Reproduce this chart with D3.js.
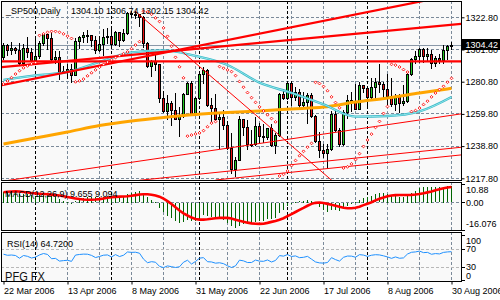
<!DOCTYPE html>
<html>
<head>
<meta charset="utf-8">
<title>_SP500,Daily</title>
<script src="https://cdn.jsdelivr.net/npm/d3@7/dist/d3.min.js"></script>
<style>
  body { margin: 0; background: #fff; }
  svg { display: block; font-family: "Liberation Sans", Arial, sans-serif; }
  .lbl { font-size: 9px; fill: #000; }
</style>
</head>
<body>
<div id="chart"></div>
<script>
// trading days on the chart
var dates = [
  "2006-03-22","2006-03-23","2006-03-24","2006-03-27","2006-03-28","2006-03-29","2006-03-30","2006-03-31",
  "2006-04-03","2006-04-04","2006-04-05","2006-04-06","2006-04-07","2006-04-10","2006-04-11","2006-04-12","2006-04-13",
  "2006-04-17","2006-04-18","2006-04-19","2006-04-20","2006-04-21","2006-04-24","2006-04-25","2006-04-26","2006-04-27","2006-04-28",
  "2006-05-01","2006-05-02","2006-05-03","2006-05-04","2006-05-05","2006-05-08","2006-05-09","2006-05-10","2006-05-11","2006-05-12",
  "2006-05-15","2006-05-16","2006-05-17","2006-05-18","2006-05-19","2006-05-22","2006-05-23","2006-05-24","2006-05-25","2006-05-26",
  "2006-05-30","2006-05-31",
  "2006-06-01","2006-06-02","2006-06-05","2006-06-06","2006-06-07","2006-06-08","2006-06-09","2006-06-12","2006-06-13","2006-06-14",
  "2006-06-15","2006-06-16","2006-06-19","2006-06-20","2006-06-21","2006-06-22","2006-06-23","2006-06-26","2006-06-27","2006-06-28",
  "2006-06-29","2006-06-30",
  "2006-07-03","2006-07-05","2006-07-06","2006-07-07","2006-07-10","2006-07-11","2006-07-12","2006-07-13","2006-07-14","2006-07-17",
  "2006-07-18","2006-07-19","2006-07-20","2006-07-21","2006-07-24","2006-07-25","2006-07-26","2006-07-27","2006-07-28","2006-07-31",
  "2006-08-01","2006-08-02","2006-08-03","2006-08-04","2006-08-07","2006-08-08","2006-08-09","2006-08-10","2006-08-11","2006-08-14",
  "2006-08-15","2006-08-16","2006-08-17","2006-08-18","2006-08-21","2006-08-22","2006-08-23","2006-08-24","2006-08-25","2006-08-28",
  "2006-08-29","2006-08-30"
];

var open = [
  1297.2,1305.0,1301.7,1303.0,1301.6,1293.2,1302.9,1300.3,1294.9,1297.8,
  1305.9,1311.6,1309.0,1295.5,1296.6,1286.6,1288.1,1289.1,1285.3,1307.3,
  1309.9,1311.5,1311.3,1308.1,1301.7,1305.4,1309.7,1310.6,1305.2,1313.2,
  1307.9,1312.3,1325.8,1324.7,1325.1,1322.9,1305.9,1291.2,1294.5,1292.1,
  1270.3,1261.8,1267.0,1262.1,1256.6,1258.6,1272.9,1280.2,1259.8,1270.1,
  1285.7,1288.2,1265.3,1263.9,1256.2,1257.9,1252.3,1237.4,1223.7,1230.0,
  1256.2,1251.5,1240.1,1240.1,1252.2,1245.6,1244.5,1250.6,1239.2,1246.0,
  1272.9,1270.2,1280.2,1270.9,1274.1,1265.5,1267.3,1272.4,1258.6,1242.3,
  1236.2,1234.5,1236.9,1259.8,1249.1,1240.3,1260.9,1268.9,1268.4,1263.2,
  1278.6,1276.7,1270.9,1277.4,1280.3,1279.4,1275.8,1271.5,1266.0,1271.8,
  1266.7,1268.2,1285.6,1295.4,1297.5,1302.3,1297.5,1298.8,1293.0,1296.1,
  1295.1,1301.8,1304.10
];
var high = [
  1305.9,1305.6,1306.5,1303.7,1306.2,1305.6,1310.2,1303.0,1309.1,1307.6,
  1311.8,1311.9,1312.9,1300.7,1300.7,1290.9,1292.1,1292.5,1309.0,1310.4,
  1313.5,1314.5,1311.3,1310.8,1310.4,1315.0,1316.0,1317.2,1313.7,1313.5,
  1315.1,1326.5,1326.7,1326.6,1325.1,1323.5,1306.5,1294.8,1297.9,1292.5,
  1275.0,1272.1,1268.5,1273.7,1264.5,1273.3,1280.5,1281.0,1271.0,1286.5,
  1290.7,1288.8,1269.9,1272.5,1259.9,1262.6,1255.2,1247.1,1231.5,1258.6,
  1256.3,1255.9,1249.0,1257.9,1253.7,1253.1,1250.9,1253.4,1247.1,1273.5,
  1276.3,1280.4,1281.0,1277.4,1275.8,1274.1,1273.6,1273.3,1259.2,1247.7,
  1240.1,1239.9,1261.8,1262.6,1250.9,1262.5,1272.4,1273.9,1279.0,1280.4,
  1278.7,1277.5,1283.4,1283.0,1292.1,1280.3,1286.0,1283.4,1272.7,1272.5,
  1278.9,1286.2,1296.2,1300.8,1302.9,1302.9,1302.5,1301.2,1297.6,1298.9,
  1305.0,1305.0,1306.74
];
var low = [
  1295.8,1298.1,1298.9,1299.6,1291.8,1292.6,1296.7,1294.3,1294.6,1296.4,
  1304.8,1302.4,1294.2,1293.2,1282.8,1286.4,1283.4,1280.7,1284.9,1302.8,
  1306.5,1306.9,1303.8,1299.2,1301.0,1298.0,1306.2,1303.5,1304.6,1303.9,
  1307.2,1311.8,1322.9,1322.5,1317.4,1303.5,1290.4,1284.5,1288.5,1267.8,
  1261.3,1256.3,1252.7,1256.2,1245.3,1258.0,1272.5,1259.3,1259.3,1269.2,
  1280.2,1264.7,1254.8,1255.8,1237.5,1250.0,1237.2,1221.5,1219.3,1229.5,
  1246.3,1237.2,1238.9,1239.5,1241.6,1241.4,1243.7,1238.9,1234.5,1245.5,
  1269.5,1269.8,1265.9,1269.0,1263.1,1264.0,1253.7,1257.8,1241.4,1231.9,
  1231.5,1224.5,1236.0,1248.5,1238.7,1239.8,1257.2,1261.6,1262.8,1262.7,
  1274.3,1265.7,1270.3,1269.5,1273.8,1271.0,1266.4,1264.7,1262.1,1261.3,
  1265.5,1267.5,1285.0,1292.7,1293.6,1293.6,1294.8,1289.9,1291.1,1292.7,
  1293.0,1295.3,1302.15
];
var close = [
  1305.0,1301.7,1303.0,1301.6,1293.2,1302.9,1300.3,1294.9,1297.8,1305.9,
  1311.6,1309.0,1295.5,1296.6,1286.6,1288.1,1289.1,1285.3,1307.3,1309.9,
  1311.5,1311.3,1308.1,1301.7,1305.4,1309.7,1310.6,1305.2,1313.2,1307.9,
  1312.3,1325.8,1324.7,1325.1,1322.9,1305.9,1291.2,1294.5,1292.1,1270.3,
  1261.8,1267.0,1262.1,1256.6,1258.6,1272.9,1280.2,1259.8,1270.1,1285.7,
  1288.2,1265.3,1263.9,1256.2,1257.9,1252.3,1237.4,1223.7,1230.0,1256.2,
  1251.5,1240.1,1240.1,1252.2,1245.6,1244.5,1250.6,1239.2,1246.0,1272.9,
  1270.2,1280.2,1270.9,1274.1,1265.5,1267.3,1272.4,1258.6,1242.3,1236.2,
  1234.5,1236.9,1259.8,1249.1,1240.3,1260.9,1268.9,1268.4,1263.2,1278.6,
  1276.7,1270.9,1277.4,1280.3,1279.4,1275.8,1271.5,1266.0,1271.8,1266.7,
  1268.2,1285.6,1295.4,1297.5,1302.3,1297.5,1298.8,1293.0,1296.1,1295.1,
  1301.8,1304.1,1304.42
];

// parabolic SAR dots
var sar = [
  1279.3,1281.3,1283.4,1285.8,1288.0,1289.8,1291.1,1292.4,1293.3,1311.0,
  1312.0,1313.0,1313.6,1313.6,1313.0,1312.0,1310.5,1309.0,1280.7,1281.3,
  1282.5,1284.6,1286.6,1288.5,1290.3,1292.0,1293.6,1295.1,1296.5,1297.8,
  1299.0,1300.2,1302.3,1304.7,1306.9,1326.7,1326.2,1324.8,1322.4,1320.1,
  1315.9,1310.4,1303.9,1296.7,1290.5,1283.3,1245.3,1246.0,1246.7,1247.4,
  1248.9,1251.4,1253.8,1254.8,1290.7,1289.6,1288.5,1287.4,1284.8,1280.9,
  1277.2,1273.7,1270.4,1267.3,1264.4,1261.7,1259.2,1256.8,1254.6,1219.3,
  1220.4,1222.6,1226.1,1229.4,1232.5,1235.4,1238.1,1240.6,1280.4,1279.6,
  1277.7,1274.9,1270.9,1267.2,1263.8,1224.5,1225.3,1227.2,1230.0,1233.9,
  1238.6,1242.8,1246.6,1251.0,1254.9,1260.1,1264.6,1292.1,1291.6,1290.4,
  1288.7,1287.1,1261.3,1262.0,1263.6,1265.9,1268.1,1270.9,1273.4,1275.7,
  1277.8,1280.5,1283.0
];

// moving averages, read every 8 bars
var maIdx  = [0, 8, 16, 24, 32, 40, 48, 56, 64, 72, 80, 88, 96, 104, 112];
var maFast = [1281.9,1284.9,1287.1,1293.7,1299.9,1301.2,1297.6,1291.7,1280.2,1273.5,1266.0,1258.0,1258.4,1261.4,1270.8];
var maSlow = [1240.2,1244.1,1248.0,1252.2,1255.2,1257.5,1259.4,1260.7,1261.7,1263.0,1264.3,1267.5,1270.2,1273.4,1276.5];

// trend lines: [start bar, start price, through bar, through price]
var thickLines = [
  [-1, 1294.1, 112, 1294.1],
  [-1, 1290.15, 112, 1317.9],
  [-1, 1278.2, 100, 1330.9]
];
var thinLines = [
  [-1, 1215.6, 112, 1258.9],
  [34, 1216.5, 112, 1237.4],
  [53, 1216.7, 112, 1232.4],
  [33, 1326.6, 80, 1221.1]
];

var macdMain = [
  6.35,6.29,6.27,6.07,5.18,5.19,4.94,4.25,3.90,4.22,
  4.88,5.14,4.20,3.50,2.12,1.13,0.42,-0.44,0.64,1.69,
  2.62,3.30,3.54,3.18,3.16,3.45,3.71,3.44,3.83,3.66,
  3.85,5.03,5.80,6.37,6.57,5.30,3.07,1.55,0.15,-2.69,
  -5.56,-7.33,-9.02,-10.68,-11.70,-11.23,-10.15,-10.81,-10.39,-8.70,
  -7.07,-7.54,-7.94,-8.77,-9.19,-9.86,-11.45,-13.66,-14.74,-13.32,
  -12.44,-12.51,-12.43,-11.26,-10.74,-10.30,-9.35,-9.41,-8.81,-6.09,
  -4.10,-1.70,-0.54,0.62,0.84,1.15,1.79,1.16,-0.64,-2.53,
  -4.11,-5.12,-4.03,-3.98,-4.59,-3.38,-1.76,-0.51,0.07,1.75,
  2.89,3.29,4.08,4.89,5.39,5.43,5.06,4.27,4.07,3.46,
  3.06,4.11,5.66,6.98,8.31,8.87,9.32,9.10,9.07,8.86,
  9.14,9.43,9.655
];
var macdSignal = [
  6.0,6.3,6.5,6.6,6.5,6.2,5.9,5.6,5.38,5.15,
  4.99,4.86,4.66,4.47,4.13,3.70,3.28,2.80,2.40,2.04,
  1.76,1.66,1.67,1.79,2.01,2.35,2.81,3.12,3.36,3.47,
  3.54,3.70,3.99,4.35,4.70,4.87,4.83,4.58,4.19,3.46,
  2.28,0.83,-0.88,-2.80,-4.69,-6.28,-7.58,-8.80,-9.65,-10.00,
  -9.97,-9.81,-9.50,-9.18,-8.95,-8.92,-8.99,-9.35,-10.02,-10.72,
  -11.26,-11.77,-12.18,-12.41,-12.51,-12.38,-11.90,-11.31,-10.81,-10.10,
  -9.17,-7.97,-6.78,-5.52,-4.28,-3.12,-1.87,-0.76,-0.16,0.02,
  -0.25,-0.76,-1.28,-1.81,-2.45,-3.02,-3.35,-3.33,-3.05,-2.39,
  -1.50,-0.69,0.20,1.26,2.23,3.03,3.65,4.12,4.37,4.44,
  4.41,4.42,4.50,4.68,5.00,5.42,5.98,6.54,7.16,7.81,
  8.37,8.79,9.094
];
var rsi = [
  59.1,56.7,57.3,56.2,50.2,56.2,54.4,50.6,52.6,57.5,
  60.6,58.6,49.1,49.8,43.8,44.9,45.6,43.2,57.2,58.5,
  59.3,59.1,56.5,51.7,54.1,56.9,57.5,53.0,58.2,53.9,
  56.8,64.1,63.2,63.5,61.3,48.2,40.2,42.5,41.3,32.1,
  29.3,33.1,31.4,29.6,31.2,41.3,45.7,37.3,43.0,50.3,
  51.5,42.4,41.9,39.2,40.1,38.1,33.3,29.6,33.2,45.9,
  44.3,40.6,40.6,46.1,43.7,43.3,46.3,41.8,45.2,56.0,
  54.8,58.3,54.1,55.3,51.4,52.2,54.3,48.1,41.9,39.8,
  39.3,40.6,51.4,47.1,43.8,52.2,55.0,54.8,52.4,58.1,
  57.1,54.3,56.8,58.0,57.5,55.5,53.0,49.9,53.0,50.1,
  50.9,59.5,63.4,64.2,66.0,62.6,63.2,59.0,60.5,59.7,
  63.1,64.2,64.72
];

var priceTicks = [1217.80, 1238.80, 1259.80, 1280.80, 1301.80, 1322.80];
var macdTicks = [10.88, 0, -16.076];
var rsiTicks = [100, 70, 30, 0];
var rsiLevels = [70, 30];
var dateTicks = [0, 16, 32, 48, 64, 80, 96, 112];
var gridBars = [8, 16, 24, 32, 40, 48, 56, 64, 72, 80, 88, 96, 104, 112];

var W = 500, H = 300;
var XL = 1, XR = 461;
var bullColor = "#22c822", bearColor = "#e81010", gridColor = "#7b8a9a";

var svg = d3.select("#chart").append("svg").attr("width", W).attr("height", H);

var x = d3.scaleLinear().domain([0, 112]).range([3, 451]);
var yP = d3.scaleLinear().domain([1217.8, 1322.8]).range([178.3, 17.3]);
var yM = d3.scaleLinear().domain([-16.076, 10.88]).range([230, 184]);
var yR = d3.scaleLinear().domain([0, 100]).range([280.8, 235.8]);

var panels = [
  {id: "pMain", top: 1, bottom: 180},
  {id: "pMacd", top: 182, bottom: 230},
  {id: "pRsi", top: 232, bottom: 281}
];

var defs = svg.append("defs");
panels.forEach(function(p) {
  defs.append("clipPath").attr("id", p.id)
    .append("rect").attr("x", XL + 1).attr("y", p.top + 1)
    .attr("width", XR - XL - 1).attr("height", p.bottom - p.top - 1);
  svg.append("rect").attr("x", XL).attr("y", p.top)
    .attr("width", XR - XL + 1).attr("height", p.bottom - p.top + 1)
    .attr("fill", "#f9f9f9");
});

var layers = panels.map(function(p) {
  return svg.append("g").attr("clip-path", "url(#" + p.id + ")").attr("shape-rendering", "crispEdges");
});

// month separators, from the dates themselves
var separators = [];
dates.forEach(function(d, i) {
  if (i > 0 && d.slice(5, 7) !== dates[i - 1].slice(5, 7)) separators.push(i);
});

panels.forEach(function(p, k) {
  var g = layers[k];
  g.selectAll(".vg").data(gridBars.filter(function(b) { return separators.indexOf(b) < 0; }))
    .enter().append("line")
    .attr("x1", function(d) { return x(d) + 0.5; }).attr("x2", function(d) { return x(d) + 0.5; })
    .attr("y1", p.top).attr("y2", p.bottom)
    .attr("stroke", gridColor).attr("stroke-dasharray", "3,2");
});

// horizontal grid
layers[0].selectAll(".hg").data(priceTicks).enter().append("line")
  .attr("x1", XL).attr("x2", XR)
  .attr("y1", function(d) { return Math.floor(yP(d)) + 0.5; })
  .attr("y2", function(d) { return Math.floor(yP(d)) + 0.5; })
  .attr("stroke", gridColor).attr("stroke-dasharray", "3,2");
layers[1].append("line").attr("x1", XL).attr("x2", XR)
  .attr("y1", Math.floor(yM(0)) + 0.5).attr("y2", Math.floor(yM(0)) + 0.5)
  .attr("stroke", gridColor).attr("stroke-dasharray", "3,2");
layers[2].selectAll(".lv").data(rsiLevels).enter().append("line")
  .attr("x1", XL).attr("x2", XR)
  .attr("y1", function(d) { return Math.floor(yR(d)) + 0.5; })
  .attr("y2", function(d) { return Math.floor(yR(d)) + 0.5; })
  .attr("stroke", "#b8b8b8").attr("stroke-dasharray", "3,2");

panels.forEach(function(p, k) {
  layers[k].selectAll(".sep").data(separators).enter().append("line")
    .attr("x1", function(d) { return x(d) + 0.5; }).attr("x2", function(d) { return x(d) + 0.5; })
    .attr("y1", p.top).attr("y2", p.bottom)
    .attr("stroke", "#000").attr("stroke-dasharray", "3,2");
});

// ---- main panel ----
var gm = layers[0];

// bid line
gm.append("line").attr("x1", XL).attr("x2", XR)
  .attr("y1", Math.floor(yP(close[112])) + 0.5).attr("y2", Math.floor(yP(close[112])) + 0.5)
  .attr("stroke", "#8a98a8");

// candles
close.forEach(function(c, i) {
  var xc = x(i), o = open[i];
  gm.append("line").attr("x1", xc + 0.5).attr("x2", xc + 0.5)
    .attr("y1", Math.round(yP(high[i]))).attr("y2", Math.round(yP(low[i])) + 1)
    .attr("stroke", "#000");
  var top = Math.round(yP(Math.max(o, c))), bot = Math.round(yP(Math.min(o, c)));
  if (bot - top < 1) bot = top + 1;
  gm.append("rect").attr("x", xc - 0.5).attr("y", top + 0.5)
    .attr("width", 2).attr("height", bot - top)
    .attr("fill", c >= o ? bullColor : bearColor).attr("stroke", "#000");
});

var smooth = gm.append("g").attr("shape-rendering", "auto");
var maLine = d3.line().x(function(d, k) { return x(maIdx[k]) + 0.5; }).y(function(d) { return yP(d); })
  .curve(d3.curveMonotoneX);
smooth.append("path").attr("d", maLine(maSlow)).attr("fill", "none")
  .attr("stroke", "#ffa500").attr("stroke-width", 3);
smooth.append("path").attr("d", maLine(maFast)).attr("fill", "none")
  .attr("stroke", "#38b8c8").attr("stroke-width", 2.4);
smooth.append("path").attr("d", maLine(maFast)).attr("fill", "none")
  .attr("stroke", "#a8f0f0").attr("stroke-width", 0.8);

function trend(g, lines, w) {
  lines.forEach(function(t) {
    var slope = (t[3] - t[1]) / (t[2] - t[0]);
    var end = 116;
    g.append("line")
      .attr("x1", x(t[0]) + 0.5).attr("y1", yP(t[1]))
      .attr("x2", x(end) + 0.5).attr("y2", yP(t[1] + slope * (end - t[0])))
      .attr("stroke", "#ff0000").attr("stroke-width", w);
  });
}
trend(smooth, thinLines, 1);
trend(smooth, thickLines, 2.2);

smooth.selectAll(".sar").data(sar).enter().append("path")
  .attr("d", function(d, i) {
    var cx = x(i) + 0.5, cy = yP(d), r = 1.4;
    return "M" + cx + "," + (cy - r) + "L" + (cx + r) + "," + cy + "L" + cx + "," + (cy + r) + "L" + (cx - r) + "," + cy + "Z";
  })
  .attr("fill", "#fff").attr("stroke", "#ff0000").attr("stroke-width", 0.9);

// ---- MACD panel ----
var gd = layers[1];
gd.selectAll(".hist").data(macdMain).enter().append("rect")
  .attr("x", function(d, i) { return x(i); })
  .attr("y", function(d) { return Math.round(Math.min(yM(d), yM(0))); })
  .attr("width", 1)
  .attr("height", function(d) { return Math.max(1, Math.round(Math.abs(yM(d) - yM(0)))); })
  .attr("fill", "#006400");
gd.append("path")
  .attr("d", d3.line().x(function(d, i) { return x(i) + 0.5; }).y(function(d) { return yM(d); })(macdSignal))
  .attr("fill", "none").attr("stroke", "#ff0000").attr("stroke-width", 2.6)
  .attr("shape-rendering", "auto");

// ---- RSI panel ----
var gr = layers[2];
gr.append("path")
  .attr("d", d3.line().x(function(d, i) { return x(i) + 0.5; }).y(function(d) { return yR(d); })(rsi))
  .attr("fill", "none").attr("stroke", "#1e90ff").attr("stroke-width", 1)
  .attr("shape-rendering", "auto");

// panel borders
panels.forEach(function(p) {
  svg.append("rect").attr("x", XL + 0.5).attr("y", p.top + 0.5)
    .attr("width", XR - XL).attr("height", p.bottom - p.top)
    .attr("fill", "none").attr("stroke", "#000").attr("shape-rendering", "crispEdges");
});

// ---- axes ----
var fmt2 = d3.format(".2f");
var axP = svg.append("g").attr("transform", "translate(" + (XR + 0.5) + ",0)")
  .call(d3.axisRight(yP).tickValues(priceTicks).tickSize(3).tickPadding(1).tickFormat(fmt2));
axP.select(".domain").remove();
axP.selectAll("text").attr("class", "lbl").attr("font-size", null).attr("font-family", null);

// bid price box
svg.append("rect").attr("x", 462).attr("y", 39).attr("width", 38).attr("height", 11).attr("fill", "#000");
svg.append("text").attr("class", "lbl").attr("x", 465.5).attr("y", 47.5)
  .style("fill", "#fff").text(fmt2(close[112]));

var macdText = function(d) { return d === -16.076 ? "-16.076" : fmt2(d); };
svg.selectAll(".mt").data(macdTicks).enter().append("line")
  .attr("x1", XR + 1).attr("x2", XR + 4)
  .attr("y1", function(d) { return Math.floor(yM(d)) + 0.5; })
  .attr("y2", function(d) { return Math.floor(yM(d)) + 0.5; })
  .attr("stroke", "#000").attr("shape-rendering", "crispEdges");
svg.selectAll(".ml").data(macdTicks).enter().append("text").attr("class", "lbl")
  .attr("x", XR + 5)
  .attr("y", function(d, k) { return yM(d) + 3 + (k === 0 ? 6 : k === 2 ? -6 : 0); })
  .text(macdText);

svg.selectAll(".rt").data(rsiTicks).enter().append("line")
  .attr("x1", XR + 1).attr("x2", XR + 4)
  .attr("y1", function(d) { return Math.floor(yR(d)) + 0.5; })
  .attr("y2", function(d) { return Math.floor(yR(d)) + 0.5; })
  .attr("stroke", "#000").attr("shape-rendering", "crispEdges");
svg.selectAll(".rl").data(rsiTicks).enter().append("text").attr("class", "lbl")
  .attr("x", XR + 5)
  .attr("y", function(d) { return yR(d) + 3 + (d === 100 ? 5 : d === 0 ? -5 : 0); })
  .text(function(d) { return d; });

var parse = d3.timeParse("%Y-%m-%d"), dfmt = d3.timeFormat("%-d %b %Y");
var axD = svg.append("g").attr("transform", "translate(0," + (panels[2].bottom + 0.5) + ")")
  .call(d3.axisBottom(x).tickValues(dateTicks).tickSize(3).tickPadding(3)
    .tickFormat(function(i) { return dfmt(parse(dates[i])); }));
axD.select(".domain").remove();
axD.selectAll(".tick line").attr("transform", "translate(0.5,0)");
axD.selectAll("text").attr("class", "lbl").attr("font-size", null).attr("font-family", null)
  .attr("text-anchor", "start").attr("x", 0.5);

// ---- labels ----
svg.append("text").attr("class", "lbl").attr("x", 6).attr("y", 14).text("_SP500,Daily");
var ohlc = [open[112], high[112], low[112], close[112]];
svg.append("text").attr("class", "lbl").attr("x", 71).attr("y", 14)
  .text(ohlc.map(fmt2).join(" "));
svg.append("text").attr("class", "lbl").attr("x", 5).attr("y", 196.5)
  .text("MACD(12,26,9) " + d3.format(".3f")(macdMain[112]) + " " + d3.format(".3f")(macdSignal[112]));
svg.append("text").attr("class", "lbl").attr("x", 7).attr("y", 246.5)
  .text("RSI(14) " + d3.format(".4f")(rsi[112]));
svg.append("text").attr("x", 5).attr("y", 280.5).attr("font-size", 13)
  .attr("textLength", 40).attr("lengthAdjust", "spacingAndGlyphs").attr("fill", "#111")
  .text("PFG FX");
</script>
</body>
</html>
